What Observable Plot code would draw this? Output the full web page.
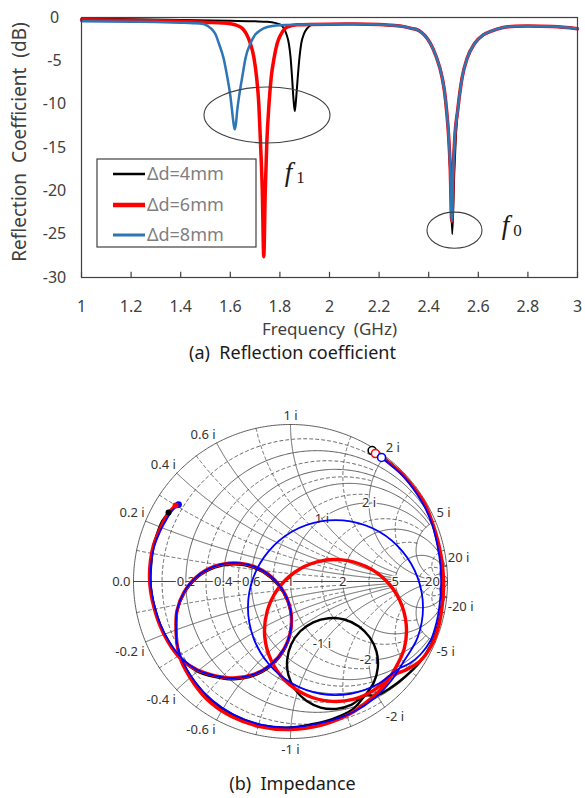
<!DOCTYPE html>
<html><head><meta charset="utf-8">
<script src="https://cdn.jsdelivr.net/npm/d3@7"></script>
<script src="https://cdn.jsdelivr.net/npm/@observablehq/plot@0.6"></script>
<style>
body{margin:0;background:#fff;}
#page{position:relative;width:585px;height:798px;background:#fff;font-family:"Noto Sans",sans-serif;overflow:hidden}
#page svg{position:absolute;left:0;}
.cap{position:absolute;left:0;width:585px;text-align:center;font-size:18px;color:#1a1a1a;line-height:20px;white-space:pre;}
</style></head><body><div id="page"></div>
<script>
// ---------- (a) Reflection coefficient data ----------
const seriesNames = ["Δd=4mm", "Δd=6mm", "Δd=8mm"];
const freqBlack = [1.0,1.2,1.4,1.6,1.7,1.75,1.78,1.8,1.815,1.826,1.836,1.843,1.849,1.855,1.86,1.865,1.872,1.879,1.886,1.897,1.91,1.93,1.96,2.0,2.1,2.2,2.25,2.3,2.33,2.36,2.385,2.407,2.43,2.454,2.465,2.472,2.48,2.487,2.495,2.503,2.51,2.517,2.525,2.535,2.555,2.585,2.62,2.65,2.7,2.75,2.8,2.9,3.0];
const dbBlack   = [-0.15,-0.2,-0.28,-0.38,-0.44,-0.5,-0.62,-0.8,-1.2,-1.9,-3.0,-4.6,-6.9,-9.5,-10.8,-9.5,-6.9,-4.6,-3.0,-1.9,-1.25,-0.85,-0.78,-0.75,-0.76,-0.8,-0.9,-1.05,-1.25,-1.5,-2.1,-3.0,-4.5,-6.9,-8.8,-10.7,-13.5,-18,-25,-18,-13.5,-10.7,-8.8,-6.9,-4.7,-3.0,-2.0,-1.6,-1.15,-1.0,-0.98,-1.05,-1.3];
const freqRed = [1.0,1.2,1.4,1.5,1.6,1.63,1.65,1.665,1.681,1.695,1.706,1.715,1.722,1.729,1.735,1.741,1.747,1.756,1.765,1.777,1.789,1.805,1.829,1.87,1.92,2.0,2.1,2.2,2.25,2.3,2.33,2.36,2.385,2.407,2.43,2.454,2.465,2.472,2.48,2.487,2.493,2.499,2.506,2.517,2.525,2.535,2.555,2.585,2.62,2.65,2.7,2.75,2.8,2.9,3.0];
const dbRed   = [-0.27,-0.32,-0.42,-0.55,-0.72,-0.95,-1.3,-1.9,-3.0,-4.6,-6.9,-10,-14.6,-20,-27.6,-20,-14.6,-10,-6.9,-4.6,-3.0,-1.9,-1.1,-0.85,-0.8,-0.78,-0.76,-0.8,-0.9,-1.05,-1.25,-1.5,-2.1,-3.0,-4.5,-6.9,-8.8,-10.7,-13.5,-17.5,-23.5,-17.5,-13.5,-10.7,-8.8,-6.9,-4.7,-3.0,-2.0,-1.6,-1.15,-1.0,-0.98,-1.05,-1.3];
const freqBlue = [1.0,1.2,1.3,1.4,1.45,1.487,1.51,1.53,1.543,1.554,1.572,1.588,1.6,1.607,1.613,1.618,1.623,1.628,1.637,1.648,1.662,1.681,1.7,1.72,1.749,1.8,1.9,2.0,2.1,2.2,2.25,2.3,2.33,2.36,2.385,2.407,2.43,2.454,2.465,2.472,2.48,2.487,2.493,2.499,2.506,2.517,2.525,2.535,2.555,2.585,2.62,2.65,2.7,2.75,2.8,2.9,3.0];
const dbBlue   = [-0.43,-0.48,-0.52,-0.6,-0.65,-0.73,-1.0,-1.5,-2.1,-3.0,-4.6,-6.9,-9.0,-10.7,-12.2,-12.9,-12.2,-10.7,-8.8,-6.9,-4.6,-3.0,-2.0,-1.5,-1.1,-0.9,-0.8,-0.78,-0.76,-0.8,-0.9,-1.05,-1.25,-1.5,-2.1,-3.0,-4.5,-6.9,-8.8,-10.7,-13.5,-17.5,-23.5,-17.5,-13.5,-10.7,-8.8,-6.9,-4.7,-3.0,-2.0,-1.6,-1.15,-1.0,-0.98,-1.05,-1.3];
const xTicks = [1,1.2,1.4,1.6,1.8,2,2.2,2.4,2.6,2.8,3];
const xTickLabels = ["1","1.2","1.4","1.6","1.8","2","2.2","2.4","2.6","2.8","3"];
const yTicks = [0,-5,-10,-15,-20,-25,-30];
const yTickLabels = ["0","-5","-10","-15","-20","-25","-30"];
// annotations (data units): ellipse centres / half-widths, resonance labels
const ellF = [1.75, 2.506], ellDb = [-11.3, -24.6], ellRf = [0.254, 0.111], ellRdb = [3.23, 2.08];
const resF = [1.835, 2.71], resDb = [-17.84, -23.99], resSub = ["1", "0"];

// ---------- (b) Impedance (Smith chart, reflection-coefficient plane) ----------
const smithBlackRe = [0.520,0.599,0.682,0.771,0.841,0.898,0.936,0.962,0.968,0.962,0.936,0.892,0.822,0.732,0.631,0.548,
 0.473,0.390,0.293,0.192,0.101,0.030,-0.013,-0.021,0.005,0.062,0.145,0.242,0.343,0.434,0.505,0.548,0.556,0.530,0.473,
 0.395,0.274,0.127,0,-0.178,-0.357,-0.490,-0.599,
 -0.697,-0.723,-0.729,-0.723,-0.677,-0.596,-0.485,-0.360,-0.234,-0.124,-0.043,0.001,0.001,-0.043,-0.124,-0.234,-0.360,-0.485,-0.599,-0.697,
 -0.777,-0.828,-0.860,-0.885,-0.892,-0.885,-0.873,-0.847,-0.822,-0.796,-0.777];
const smithBlackIm = [0.834,0.783,0.713,0.618,0.510,0.389,0.248,0.108,-0.032,-0.159,-0.287,-0.408,-0.516,-0.605,-0.682,-0.726,
 -0.727,-0.784,-0.811,-0.803,-0.760,-0.689,-0.597,-0.497,-0.400,-0.317,-0.260,-0.234,-0.242,-0.285,-0.356,-0.447,-0.548,-0.645,-0.727,
 -0.815,-0.873,-0.911,-0.930,-0.917,-0.854,-0.771,-0.656,
 -0.492,-0.403,-0.307,-0.193,-0.074,0.024,0.088,0.110,0.088,0.024,-0.074,-0.193,-0.320,-0.440,-0.537,-0.600,-0.623,-0.607,-0.569,-0.492,
 -0.382,-0.280,-0.185,-0.083,0.019,0.134,0.229,0.312,0.376,0.414,0.439];
const smithRedRe = [0.541,0.618,0.701,0.783,0.854,0.904,0.943,0.968,0.975,0.965,0.943,0.898,0.822,0.726,
 0.633,0.546,0.404,0.247,0.096,-0.033,-0.123,-0.164,-0.150,-0.084,0.027,0.169,0.326,0.478,0.606,0.696,0.737,0.724,0.657,
 0.592,0.497,0.382,0.210,0,-0.197,-0.376,-0.510,-0.611,
 -0.704,-0.723,-0.729,-0.723,-0.677,-0.596,-0.485,-0.360,-0.234,-0.124,-0.043,0.001,0.001,-0.043,-0.124,-0.234,-0.360,-0.485,-0.599,-0.704,
 -0.783,-0.834,-0.866,-0.889,-0.898,-0.892,-0.873,-0.841,-0.803,-0.764,-0.732];
const smithRedIm = [0.815,0.764,0.694,0.599,0.497,0.376,0.242,0.102,-0.038,-0.166,-0.287,-0.408,-0.510,-0.567,
 -0.603,-0.682,-0.749,-0.762,-0.721,-0.632,-0.503,-0.352,-0.195,-0.053,0.059,0.125,0.138,0.097,0.008,-0.121,-0.273,-0.429,-0.571,
 -0.669,-0.758,-0.841,-0.911,-0.943,-0.924,-0.860,-0.771,-0.656,
 -0.487,-0.395,-0.299,-0.185,-0.066,0.032,0.096,0.118,0.096,0.032,-0.066,-0.185,-0.312,-0.432,-0.529,-0.592,-0.615,-0.599,-0.561,-0.487,
 -0.379,-0.274,-0.178,-0.076,0.019,0.134,0.229,0.312,0.395,0.452,0.484];
const smithBlueRe = [0.580,0.650,0.726,0.803,0.860,0.904,0.936,0.955,0.959,0.949,0.930,0.892,0.828,0.758,
 0.681,0.566,0.383,0.190,0.008,-0.140,-0.237,-0.271,-0.237,-0.140,0.008,0.190,0.383,0.566,0.713,0.810,0.844,0.810,0.713,
 0.637,0.541,0.395,0.210,0,-0.191,-0.363,-0.497,-0.605,
 -0.697,-0.723,-0.729,-0.723,-0.677,-0.596,-0.485,-0.360,-0.234,-0.124,-0.043,0.001,0.001,-0.043,-0.124,-0.234,-0.360,-0.485,-0.599,-0.697,
 -0.777,-0.828,-0.860,-0.882,-0.892,-0.885,-0.866,-0.834,-0.790,-0.752,-0.713];
const smithBlueIm = [0.790,0.732,0.662,0.561,0.465,0.357,0.229,0.102,-0.025,-0.153,-0.261,-0.376,-0.465,-0.522,
 -0.560,-0.648,-0.715,-0.715,-0.648,-0.524,-0.356,-0.166,0.025,0.192,0.317,0.383,0.383,0.317,0.192,0.025,-0.166,-0.356,-0.522,
 -0.637,-0.739,-0.834,-0.898,-0.930,-0.911,-0.847,-0.758,-0.643,
 -0.484,-0.395,-0.299,-0.185,-0.066,0.032,0.096,0.118,0.096,0.032,-0.066,-0.185,-0.312,-0.432,-0.529,-0.592,-0.615,-0.599,-0.561,-0.484,
 -0.376,-0.274,-0.178,-0.076,0.019,0.134,0.229,0.312,0.395,0.452,0.490];
// Smith grid values (normalized resistance / reactance) and labels
const rMajor = [0, 0.2, 0.4, 0.6, 1, 2, 5, 20];
const rMinor = [0.1, 0.3, 0.5, 0.8, 1.5, 3, 10];
const xMajor = [0.2, 0.4, 0.6, 1, 2, 5, 20];
const xMinor = [0.1, 0.3, 0.5, 0.8, 1.5, 3, 10];
const realLabels = ["0.2","0.4","0.6","1","2","5","20"];
const realLabelValues = [0.2,0.4,0.6,1,2,5,20];
const outerReact = [0.2,0.4,0.6,1,2,5,20,-0.2,-0.4,-0.6,-1,-2,-5,-20];
const outerReactLabels = ["0.2 i","0.4 i","0.6 i","1 i","2 i","5 i","20 i","-0.2 i","-0.4 i","-0.6 i","-1 i","-2 i","-5 i","-20 i"];
const innerReact = [1,2,-1,-2];
const innerReactLabels = ["1 i","2 i","-1 i","-2 i"];

// ---------- styling ----------
const colorsTop = ["#000000","#ff0000","#2e75b6"];
const widthsTop = [2,3.5,2.5];
const colorsSmith = ["#000000","#ff0000","#0000ff"];
const widthsSmith = [2.4,3.4,1.8];
const FONT = '"Noto Sans", sans-serif';
const page = document.getElementById("page");

// ===== (a) =====
const topSeries = [[freqBlack,dbBlack],[freqRed,dbRed],[freqBlue,dbBlue]].map(([f,d],i)=>f.map((v,j)=>({f:v,db:d[j],s:seriesNames[i]})));
const topPlot = Plot.plot({
  width:585, height:340, marginTop:17, marginLeft:81, marginRight:8, marginBottom:63,
  x:{domain:[1,3], axis:null}, y:{domain:[-30,0], axis:null},
  style:{fontFamily:FONT, background:"transparent", overflow:"visible"},
  marks:[
    ...topSeries.map((rows,i)=>Plot.line(rows,{x:"f",y:"db",stroke:colorsTop[i],strokeWidth:widthsTop[i],curve:"monotone-x"})),
    Plot.frame({stroke:"#404040",strokeWidth:1.2}),
    Plot.ruleX(xTicks,{x:d=>d,y1:-30,y2:-29.4,stroke:"#404040",strokeWidth:1.2}),
    Plot.text(xTicks,{x:d=>d,y:-30,dy:29,text:(d,i)=>xTickLabels[i],fontSize:16,fill:"#404040"}),
    Plot.text(yTicks,{x:1,y:d=>d,dx:-27,text:(d,i)=>yTickLabels[i],fontSize:16,fill:"#404040"}),
    Plot.text(["Frequency\u00a0\u00a0(GHz)"],{frameAnchor:"bottom",dy:57,fontSize:17,fill:"#404040"}),
    Plot.text(resF,{x:d=>d,y:(d,i)=>resDb[i],text:()=>"f",fontSize:27,fontStyle:"italic",fontFamily:"Liberation Serif",fill:"#1a1a1a"}),
    Plot.text(resF,{x:d=>d,y:(d,i)=>resDb[i],text:(d,i)=>resSub[i],dx:12,dy:5,fontSize:17,fontFamily:"Liberation Serif",fill:"#1a1a1a"})
  ]
});
topPlot.style.top = "0px";
page.appendChild(topPlot);
{
  const xs = topPlot.scale("x"), ys = topPlot.scale("y");
  const svg = d3.select(topPlot);
  svg.append("text").attr("transform","translate(19,142) rotate(-90)")
    .attr("text-anchor","middle").attr("dy","0.35em")
    .attr("font-size",19).attr("fill","#404040").attr("font-family",FONT)
    .text("Reflection\u00a0\u00a0Coefficient\u00a0\u00a0(dB)");
  const g = svg.append("g");
  g.selectAll("ellipse").data(ellF).join("ellipse")
    .attr("cx",d=>xs.apply(d)).attr("cy",(d,i)=>ys.apply(ellDb[i]))
    .attr("rx",(d,i)=>xs.apply(d+ellRf[i])-xs.apply(d))
    .attr("ry",(d,i)=>ys.apply(ellDb[i]-ellRdb[i])-ys.apply(ellDb[i]))
    .attr("fill","none").attr("stroke","#404040").attr("stroke-width",1.1);
  // legend
  const lg = svg.append("g").attr("text-anchor","start");
  lg.append("rect").attr("x",97).attr("y",159).attr("width",159).attr("height",88)
    .attr("fill","white").attr("stroke","#404040").attr("stroke-width",1.2);
  const ly = [174,205,235];
  seriesNames.forEach((n,i)=>{
    lg.append("line").attr("x1",113).attr("x2",145).attr("y1",ly[i]).attr("y2",ly[i])
      .attr("stroke",colorsTop[i]).attr("stroke-width",i===1?4.5:widthsTop[i]+0.5);
    lg.append("text").attr("x",147).attr("y",ly[i]).attr("dy","0.35em").text(n)
      .attr("text-anchor","start")
      .attr("fill","#7f7f7f").attr("font-size",18).attr("font-family",FONT);
  });
}
const capA = document.createElement("div");
capA.className="cap"; capA.style.top="342px"; capA.textContent="(a)  Reflection coefficient";
page.appendChild(capA);

// ===== (b) Smith chart =====
function zToG(r,x){const d=(r+1)*(r+1)+x*x;return [(r*r+x*x-1)/d, 2*x/d];}
function xLimit(v){ return v<=1 ? 5 : v<=5 ? 20 : 1e7; }
function xLimitMinor(v){ return v<1 ? 2 : v<=3 ? 5 : 20; }
function resPts(r,X,id){
  const t=Math.atan(X), n=600, out=[];
  for(let k=0;k<=n;k++){const th=-t+2*t*k/n; const g=zToG(r,Math.tan(th)); out.push({id,gx:g[0],gy:g[1]});}
  return out;
}
function reaPts(x,R,id){
  const smax=R/(1+R), n=500, out=[];
  for(let k=0;k<=n;k++){const s=smax*k/n; const g=zToG(s/(1-s),x); out.push({id,gx:g[0],gy:g[1]});}
  return out;
}
const gridMajor=[], gridMinor=[];
rMajor.forEach(r=>gridMajor.push(...resPts(r, r===0?1e7:xLimit(r), "r"+r)));
rMinor.forEach(r=>gridMinor.push(...resPts(r, xLimitMinor(r), "rm"+r)));
xMajor.forEach(x=>{gridMajor.push(...reaPts(x,xLimit(x),"x"+x)); gridMajor.push(...reaPts(-x,xLimit(x),"x-"+x));});
xMinor.forEach(x=>{gridMinor.push(...reaPts(x,xLimitMinor(x),"xm"+x)); gridMinor.push(...reaPts(-x,xLimitMinor(x),"xm-"+x));});

const PX = 1/157;
const outer = outerReact.map((x,i)=>{const g=zToG(0,x); return {gx:g[0], gy:g[1], label:outerReactLabels[i], up:x>0};});
const outerLeft = outer.filter(d=>d.gx<-0.05).map(d=>({...d, lx:d.gx-1*PX, ly:d.gy+(d.up?8.5:-10)*PX}));
const outerRight = outer.filter(d=>d.gx>0.05).map(d=>({...d, lx:d.gx+1*PX, ly:d.gy+(d.up?8.5:-10)*PX}));
const outerMid = outer.filter(d=>Math.abs(d.gx)<=0.05).map(d=>({...d, lx:d.gx, ly:d.gy+(d.up?9:-11)*PX}));
const realL = realLabelValues.map((r,i)=>({gx:(r-1)/(r+1), gy:0, label:realLabels[i]}));
const innerL = innerReact.map((x,i)=>{const g=zToG(1,x); return {gx:g[0], gy:g[1], label:innerReactLabels[i]};});

const smithSeries = [[smithBlackRe,smithBlackIm],[smithRedRe,smithRedIm],[smithBlueRe,smithBlueIm]]
  .map(([re,im],i)=>re.map((v,j)=>({gx:v, gy:im[j], s:seriesNames[i]})));
const starts = smithSeries.map((rows,i)=>({...rows[0], c:colorsSmith[i]}));
const ends = smithSeries.map((rows,i)=>({...rows[rows.length-1], c:colorsSmith[i], rr: i===2?5.2:4.2}));
const labelStyle = {fontSize:13, fill:"#333", stroke:"white", strokeWidth:3, fontFamily:FONT};

const smith = Plot.plot({
  width:585, height:400,
  x:{domain:[-1,1], range:[133,447], axis:null},
  y:{domain:[-1,1], range:[358,44], axis:null},
  style:{fontFamily:FONT, background:"transparent", overflow:"visible"},
  marks:[
    Plot.line(gridMinor,{x:"gx",y:"gy",z:"id",stroke:"#444",strokeWidth:0.85,strokeDasharray:"3,3"}),
    Plot.line(gridMajor,{x:"gx",y:"gy",z:"id",stroke:"#4a4a4a",strokeWidth:0.9}),
    Plot.ruleY([0],{x1:-1,x2:1,stroke:"#444",strokeWidth:1}),
    Plot.text(realL,{x:"gx",y:"gy",text:"label",...labelStyle}),
    Plot.text([{gx:-1,gy:0,label:"0.0"}],{x:"gx",y:"gy",text:"label",dx:-3,textAnchor:"end",...labelStyle}),
    Plot.text(innerL,{x:"gx",y:"gy",text:"label",...labelStyle}),
    Plot.text(outerLeft,{x:"lx",y:"ly",text:"label",textAnchor:"end",...labelStyle}),
    Plot.text(outerRight,{x:"lx",y:"ly",text:"label",textAnchor:"start",...labelStyle}),
    Plot.text(outerMid,{x:"lx",y:"ly",text:"label",...labelStyle}),
    ...smithSeries.map((rows,i)=>Plot.line(rows,{x:"gx",y:"gy",stroke:colorsSmith[i],strokeWidth:widthsSmith[i],curve:"catmull-rom"})),
    Plot.dot(ends,{x:"gx",y:"gy",fill:"c",r:"rr",stroke:"none"}),
    Plot.dot(starts,{x:"gx",y:"gy",fill:"white",stroke:"c",r:4,strokeWidth:1.6})
  ]
});
smith.style.top = "380px";
page.appendChild(smith);
const capB = document.createElement("div");
capB.className="cap"; capB.style.top="773px"; capB.textContent="(b)  Impedance";
page.appendChild(capB);
</script></body></html>
